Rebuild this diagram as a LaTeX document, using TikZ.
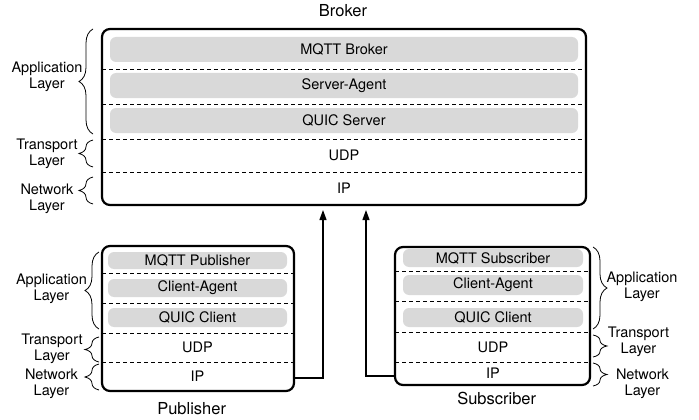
\documentclass[tikz,border=0pt]{standalone}
\usepackage{fontspec}
\setmainfont{TeX Gyre Heros}
\usetikzlibrary{positioning, arrows.meta, decorations.pathreplacing}
\definecolor{barfill}{RGB}{217,217,217}
\tikzset {
    >={Triangle[length=10pt, width=7pt]},
    every node/.style={font=\fontsize{14.5}{16}\selectfont, inner sep=0pt},
    title/.style={font=\fontsize{16.5}{18}\selectfont},
    host/.style={draw, line width=2.2pt, rounded corners=8pt},
    bar/.style={fill=barfill, rounded corners=6pt},
    sep/.style={dash pattern=on 4pt off 3pt, line width=0.8pt},
    layerbrace/.style={decorate, decoration={brace, amplitude=14pt}, line width=0.8pt},
    layertext/.style={align=center},
    link/.style={->, line width=1.2pt}
}

\begin{document}
\begin{tikzpicture}[x=1pt, y=-1pt]
    \useasboundingbox (0,0) rectangle (699,420);

    % broker
    \node[host, minimum width=484, minimum height=176] (broker) at (344,117) {};
    \node[title] (brokertitle) at (343,10.7) {Broker};
    \node[bar, minimum width=468, minimum height=25] (mqttbroker) at (344,49.5) {MQTT Broker};
    \node[bar, minimum width=468, minimum height=25] (serveragent) at (344,85.5) {Server-Agent};
    \node[bar, minimum width=468, minimum height=25] (quicserver) at (344,120.5) {QUIC Server};
    \node (brokerudp) at (344,155.5) {UDP};
    \node (brokerip) at (344,188.5) {IP};
    \foreach \y in {69,104,139,172}
        \draw[sep] (102,\y) -- (586,\y);

    \draw[layerbrace] (93,134) -- (93,29);
    \draw[layerbrace] (93,167) -- (93,140);
    \draw[layerbrace] (93,204) -- (93,177);
    \node[layertext] (brokerapp) at (47,77) {Application\\Layer};
    \node[layertext] (brokertrans) at (47,154) {Transport\\Layer};
    \node[layertext] (brokernet) at (47,199) {Network\\Layer};

    % publisher
    \node[host, minimum width=192, minimum height=145] (pub) at (198,318.5) {};
    \node[title] (pubtitle) at (191.7,408.3) {Publisher};
    \node[bar, minimum width=179, minimum height=17] (mqttpub) at (197.5,260.5) {MQTT Publisher};
    \node[bar, minimum width=179, minimum height=18] (pubagent) at (197.5,288) {Client-Agent};
    \node[bar, minimum width=179, minimum height=19] (pubquic) at (197.5,317.5) {QUIC Client};
    \node (pubudp) at (197.5,347.5) {UDP};
    \node (pubip) at (197.5,376.5) {IP};
    \foreach \y in {273,303,333,362}
        \draw[sep] (102,\y) -- (294,\y);

    \draw[layerbrace] (99,329) -- (99,252);
    \draw[layerbrace] (99,362) -- (99,337);
    \draw[layerbrace] (99,390) -- (99,364);
    \node[layertext] (pubapp) at (51.5,288.5) {Application\\Layer};
    \node[layertext] (pubtrans) at (52,349) {Transport\\Layer};
    \node[layertext] (pubnet) at (51.5,383.5) {Network\\Layer};

    % subscriber
    \node[host, minimum width=195, minimum height=138] (sub) at (492.5,316) {};
    \node[title] (subtitle) at (496.7,398.3) {Subscriber};
    \node[bar, minimum width=180, minimum height=18] (mqttsub) at (493,258) {MQTT Subscriber};
    \node[bar, minimum width=180, minimum height=20] (subagent) at (493,285) {Client-Agent};
    \node[bar, minimum width=180, minimum height=19] (subquic) at (493,317.5) {QUIC Client};
    \node (subudp) at (493,347) {UDP};
    \node (subip) at (493,373.5) {IP};
    \foreach \y in {271,301,332,362}
        \draw[sep] (395,\y) -- (590,\y);

    \draw[layerbrace] (593,247) -- (593,329);
    \draw[layerbrace] (593,335) -- (593,357);
    \draw[layerbrace] (593,363) -- (593,386);
    \node[layertext] (subapp) at (642,286.5) {Application\\Layer};
    \node[layertext] (subtrans) at (638.5,341.5) {Transport\\Layer};
    \node[layertext] (subnet) at (642.5,384) {Network\\Layer};

    % links into the broker
    \coordinate (pubin) at (323,210);
    \coordinate (subin) at (366,210);
    \draw[link] ([yshift=-1.5pt]pub.east |- pubip) -| (pubin);
    \draw[link] ([yshift=-2.5pt]sub.west |- subip) -| (subin);
\end{tikzpicture}
\end{document}
